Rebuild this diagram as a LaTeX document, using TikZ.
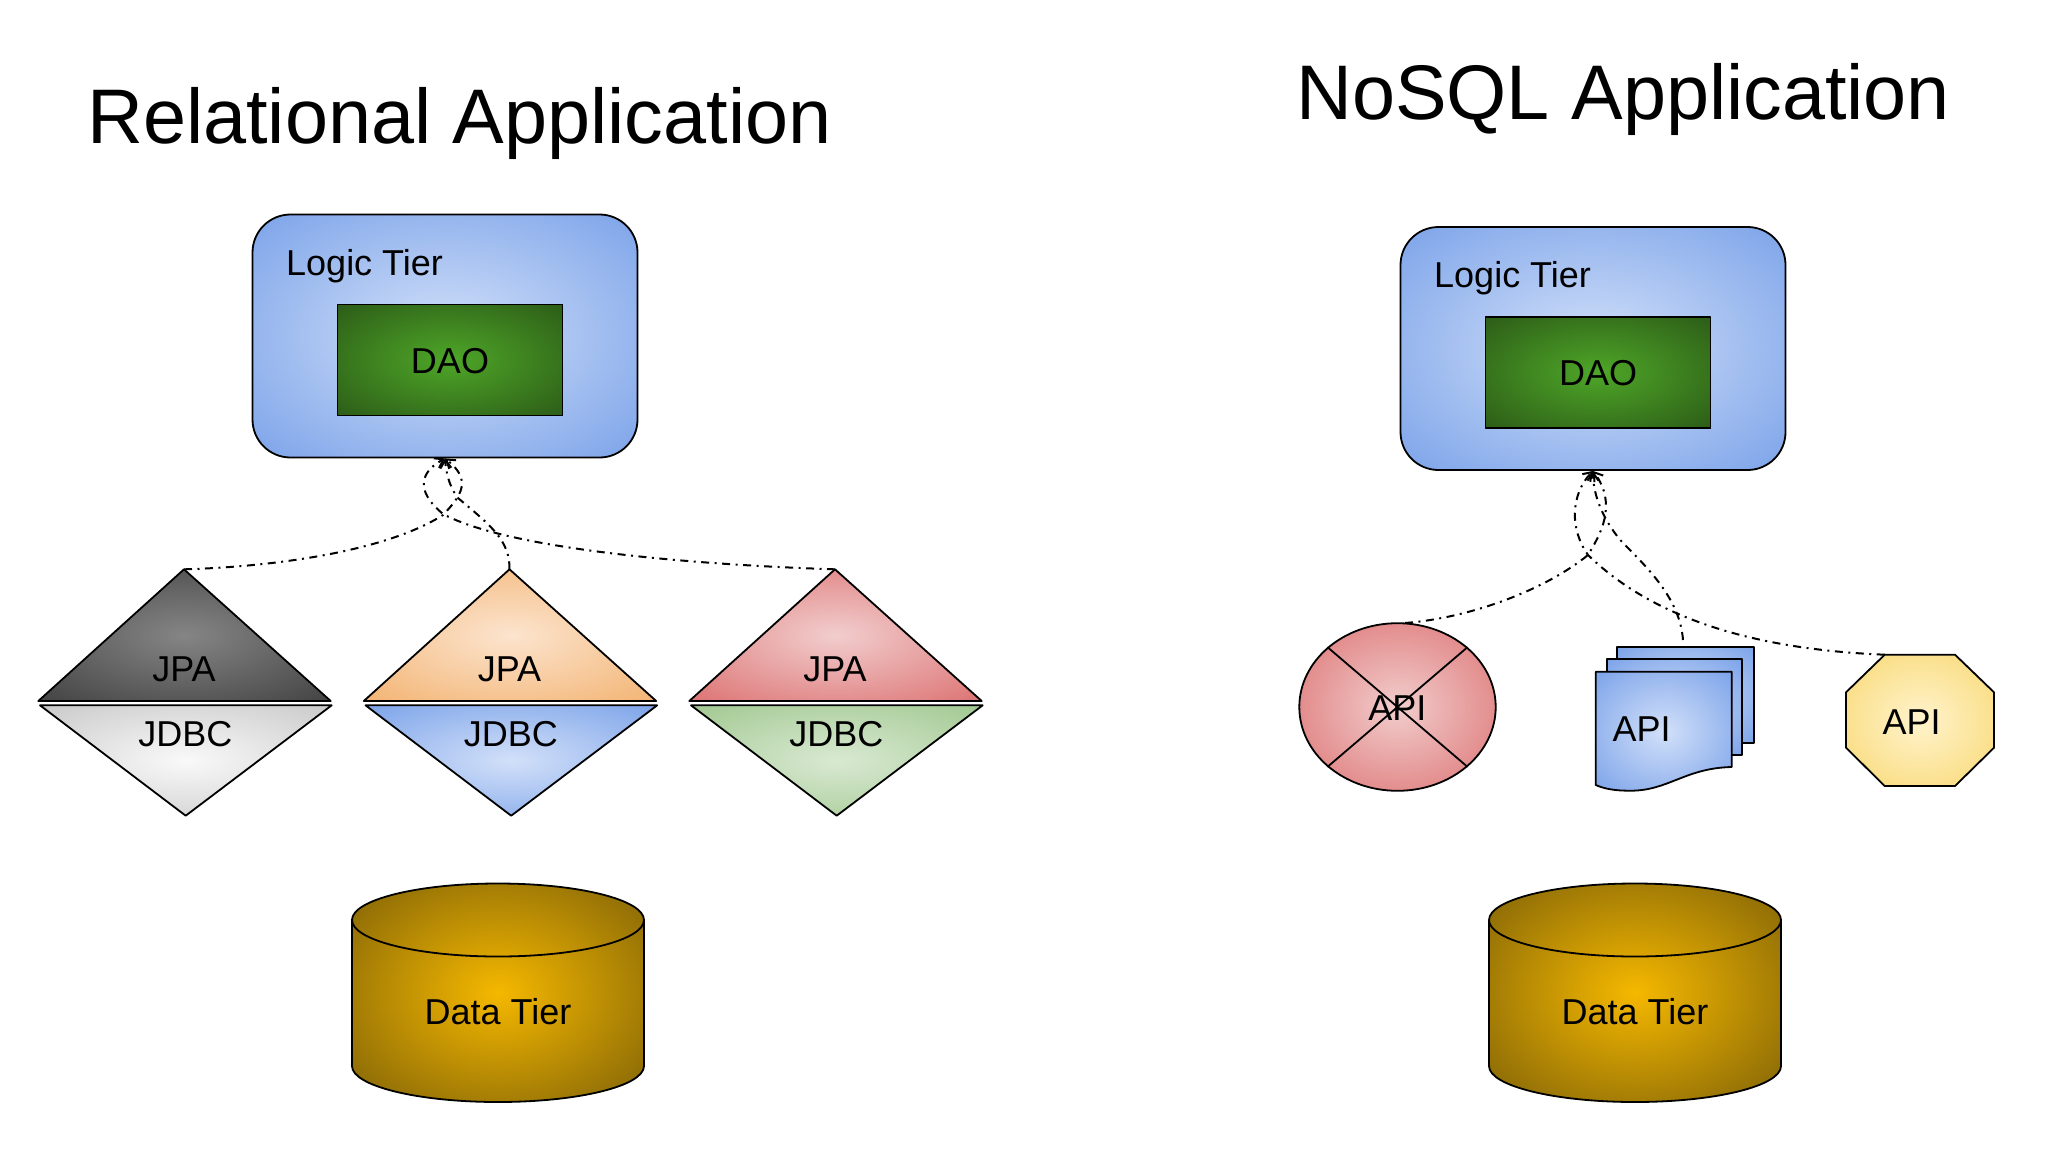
\documentclass[tikz,border=0pt]{standalone}
\usepackage{fontspec}
\setmainfont{Liberation Sans}
\usetikzlibrary{shapes.geometric,arrows.meta}
\newcommand{\mkshade}[3]{%
  \definecolor{#1in}{HTML}{#2}\definecolor{#1out}{HTML}{#3}%
  \pgfdeclareradialshading{#1}{\pgfpointorigin}{color(0bp)=(#1in); color(38bp)=(#1out); color(50bp)=(#1out)}}
\mkshade{sblue}{D2E0F9}{769FE8}
\mkshade{sgreen}{4EA628}{2A5716}
\mkshade{sdark}{858585}{3E3E3E}
\mkshade{sgrey}{F9F9F9}{C6C6C6}
\mkshade{sorange}{FCE4CE}{F2B06C}
\mkshade{sred}{F2CDCD}{DB6C6C}
\mkshade{sgreenl}{D9E9D2}{9DC68C}
\mkshade{syellow}{FFF3CC}{F8D76E}
\mkshade{sgold}{F5B800}{7A5E08}
\tikzset{
  x=1pt,y=-1pt,
  outl/.style={draw=black,line width=1.8pt,line join=round},
  lbl/.style={font=\fontsize{36}{40}\selectfont,text=black,anchor=base,inner sep=0pt},
  ttl/.style={font=\fontsize{77.4}{84}\selectfont,text=black,anchor=base west,inner sep=0pt},
  logicbox/.style={outl,shade,shading=sblue,rounded corners=38pt,minimum width=385pt,minimum height=243pt,inner sep=0pt},
  daobox/.style={outl,shade,shading=sgreen,minimum width=225pt,minimum height=111pt,inner sep=0pt},
  conn/.style={draw=black,line width=2pt,dash pattern=on 8pt off 5.5pt on 2pt off 5.5pt,-{Straight Barb[length=8pt,width=11pt]}},
}
\begin{document}
\begin{tikzpicture}
\useasboundingbox (0,0) rectangle (2048,1152);
\fill[white] (0,0) rectangle (2048,1152);
% titles
\node[ttl] (titleL) at (87,143.5) {Relational Application};
\node[ttl] (titleR) at (1296,119) {NoSQL Application};
% logic tiers
\node[logicbox] (logicL) at (445,336) {};
\node[daobox] (daoL) at (450,360) {};
\node[lbl,anchor=base west] (ltL) at (286,275) {Logic Tier};
\node[lbl] (daotL) at (450,373) {DAO};
\node[logicbox] (logicR) at (1593,348.5) {};
\node[daobox] (daoR) at (1598,372.5) {};
\node[lbl,anchor=base west] (ltR) at (1434,287.5) {Logic Tier};
\node[lbl] (daotR) at (1598,385.5) {DAO};
% diamonds
\draw[outl,shade,shading=sdark]   (184,569.3) coordinate (d1) -- (330.7,701) -- (38.3,701) -- cycle;
\draw[outl,shade,shading=sgrey]   (40,705.3) -- (331.7,705.3) -- (185.7,815.7) -- cycle;
\draw[outl,shade,shading=sorange] (509.5,569.3) coordinate (d2) -- (656.2,701) -- (363.8,701) -- cycle;
\draw[outl,shade,shading=sblue]   (365.5,705.3) -- (657.2,705.3) -- (511.2,815.7) -- cycle;
\draw[outl,shade,shading=sred]    (835,569.3) coordinate (d3) -- (981.7,701) -- (689.3,701) -- cycle;
\draw[outl,shade,shading=sgreenl] (691,705.3) -- (982.7,705.3) -- (836.7,815.7) -- cycle;
\node[lbl] (jpa1) at (184,681.7) {JPA};
\node[lbl] (jdbc1) at (185.3,746.7) {JDBC};
\node[lbl] (jpa2) at (509.5,681.7) {JPA};
\node[lbl] (jdbc2) at (510.8,746.7) {JDBC};
\node[lbl] (jpa3) at (835,681.7) {JPA};
\node[lbl] (jdbc3) at (836.3,746.7) {JDBC};
% API shapes
\node[ellipse,outl,shade,shading=sred,minimum width=196.4pt,minimum height=167.6pt,inner sep=0pt] (apiE) at (1397.5,707) {};
\draw[line width=1.8pt] (apiE.north west) -- (apiE.south east);
\draw[line width=1.8pt] (apiE.north east) -- (apiE.south west);
\coordinate (apiEtop) at (1405,623);
\node[lbl] (apiEt) at (1397.3,720.7) {API};
\draw[outl,shade,shading=sblue] (1617.3,647.3) rectangle (1753.7,743.3);
\draw[outl,shade,shading=sblue] (1606.7,659.3) rectangle (1742,755.3);
\draw[outl,shade,shading=sblue] (1595.7,671.7) -- (1731.7,671.7) -- (1731.7,767)
  .. controls (1685,768) and (1668,791) .. (1630,790.7)
  .. controls (1615,790.7) and (1605,789) .. (1595.7,785) -- cycle;
\coordinate (docTop) at (1683,640);
\node[lbl] (apiDt) at (1641.7,741.7) {API};
\draw[outl,shade,shading=syellow] (1884.7,654.7) coordinate (oct) -- (1955,654.7) -- (1994,692.3) -- (1994,747.7) -- (1955,786) -- (1884.7,786) -- (1846,747.7) -- (1846,692.3) -- cycle;
\node[lbl] (apiOt) at (1911.7,734) {API};
% data tiers
\draw[outl,shade,shading=sgold] (352,920) -- (352,1066) arc[start angle=180,end angle=360,x radius=146pt,y radius=36pt] -- (644,920) arc[start angle=0,end angle=180,x radius=146pt,y radius=36.5pt] -- cycle;
\draw[outl] (352,920) arc[start angle=180,end angle=360,x radius=146pt,y radius=36.5pt];
\node[lbl] (dataL) at (498,1024) {Data Tier};
\draw[outl,shade,shading=sgold] (1489,920) -- (1489,1066) arc[start angle=180,end angle=360,x radius=146pt,y radius=36pt] -- (1781,920) arc[start angle=0,end angle=180,x radius=146pt,y radius=36.5pt] -- cycle;
\draw[outl] (1489,920) arc[start angle=180,end angle=360,x radius=146pt,y radius=36.5pt];
\node[lbl] (dataR) at (1635,1024) {Data Tier};
% connectors left
\draw[conn] (d1) .. controls (270,567) and (385,552) .. (443,515) .. controls (462,495) and (472,480) .. (logicL.south);
\draw[conn] (d2) .. controls (510,540) and (490,525) .. (458,498) .. controls (448,485) and (446,470) .. (logicL.south);
\draw[conn] (d3) .. controls (700,565) and (510,550) .. (443,514) .. controls (420,495) and (415,475) .. (logicL.south);
% connectors right
\draw[conn] (apiEtop) .. controls (1470,618) and (1545,590) .. (1588,555) .. controls (1600,535) and (1618,505) .. (logicR.south);
\draw[conn] (docTop) .. controls (1680,600) and (1650,570) .. (1622,542) .. controls (1603,520) and (1593,495) .. (logicR.south);
\draw[conn] (oct) .. controls (1770,650) and (1660,625) .. (1588,555) .. controls (1570,530) and (1570,495) .. (logicR.south);
\end{tikzpicture}
\end{document}
